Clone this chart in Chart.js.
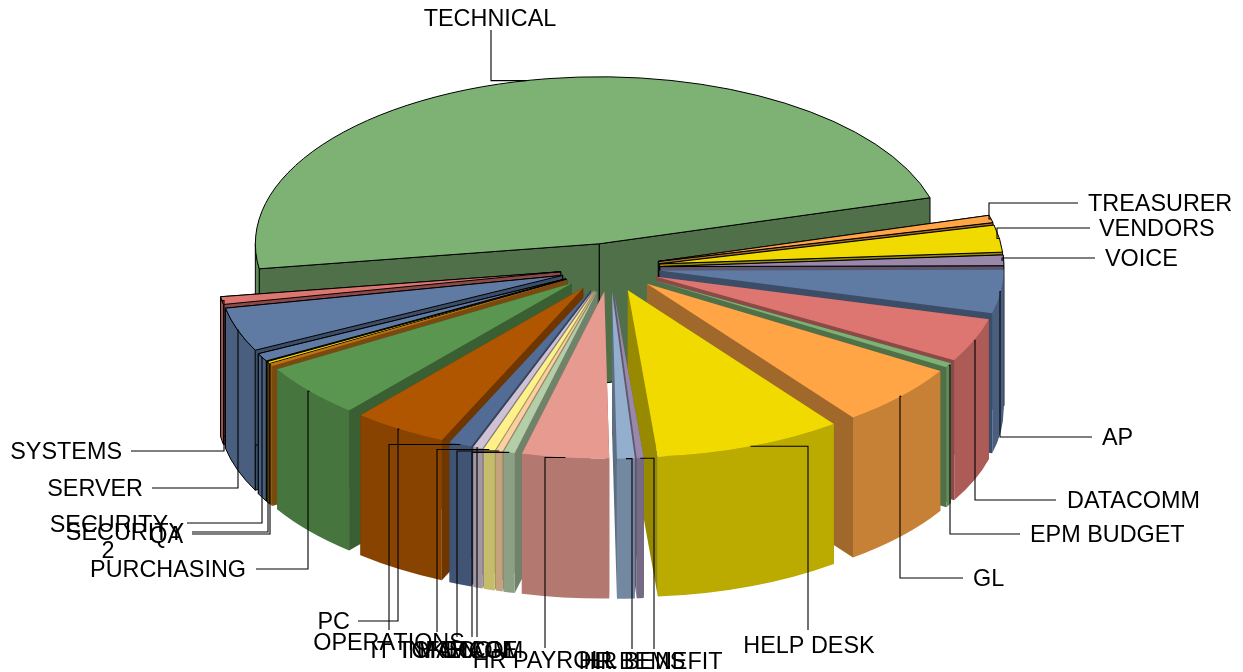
<!DOCTYPE html>
<html>
<head>
<meta charset="utf-8">
<style>
html, body { margin: 0; padding: 0; background: #fff; overflow: hidden; }
canvas { display: block; }
</style>
<script src="https://cdn.jsdelivr.net/npm/chart.js@4/dist/chart.umd.min.js"></script>
</head>
<body>
<canvas id="pie3d" width="1243" height="672"></canvas>
<script>
"use strict";
// values, share of the pie in percent
const categories = ['AP', 'DATACOMM', 'EPM BUDGET', 'GL', 'HELP DESK', 'HR BENEFIT', 'HR BEMS', 'HR PAYROLL',
    'IMAGE', 'INFOCOM', 'IT TOKEN', 'MARCOM', 'OPERATIONS', 'PC', 'PURCHASING', 'QA', 'SECURITY 2', 'SECURITY',
    'SERVER', 'SYSTEMS', 'TECHNICAL', 'TREASURER', 'VENDORS', 'VOICE'];
const shares = [4.19, 4.22, 0.42, 6.03, 8.83, 0.33, 0.83, 4.08,
    0.53, 0.31, 0.53, 0.44, 1.08, 4.47, 5.17, 0.22, 0.22, 0.78,
    4.25, 0.75, 47.94, 0.72, 2.61, 1.03];
const sliceColors = ['#5f7aa3', '#dd7570', '#7db274', '#ffa545', '#f0da00', '#9988aa', '#94aece', '#e69a90',
    '#b4cfa8', '#fad0a0', '#fff18a', '#cfc2d4', '#536c95', '#b05600', '#5a964f', '#c07414', '#f0d000', '#5f7aa3',
    '#5f7aa3', '#dd7570', '#7db274', '#ffa545', '#f0da00', '#9988aa'];
// slices that get a thin black outline in the original
const outlined = ['SECURITY 2', 'SECURITY', 'SERVER', 'SYSTEMS', 'TECHNICAL', 'TREASURER', 'VENDORS', 'VOICE'];

// label layout: [elbow x, end y, end x, text x, text y, align]
const labelLayout = {
    'AP': [1000, 437, 1092, 1102, 437, 'left'],
    'DATACOMM': [975, 500, 1056, 1067, 500, 'left'],
    'EPM BUDGET': [950, 534, 1020, 1030, 534, 'left'],
    'GL': [900, 578, 963, 973, 578, 'left'],
    'HELP DESK': [808, 630, 808, 809, 645, 'center'],
    'HR BENEFIT': [654, 649, 654, 653, 661, 'center'],
    'HR BEMS': [632, 649, 632, 632, 661, 'center'],
    'HR PAYROLL': [545, 648, 545, 545, 660, 'center'],
    'IMAGE': [472, 637, 472, 480, 650, 'center'],
    'INFOCOM': [457, 637, 457, 457, 650, 'center'],
    'IT TOKEN': [437, 632, 437, 424, 650, 'center'],
    'MARCOM': [477, 637, 477, 470, 650, 'center'],
    'OPERATIONS': [389, 630, 389, 389, 642, 'center'],
    'PC': [398, 621, 358, 350, 621, 'right'],
    'PURCHASING': [308, 569, 256, 246, 569, 'right'],
    'QA': [270, 534, 192, 183, 535, 'right'],
    'SECURITY 2': [268, 532, 192, 125, 532, 'center'],
    'SECURITY': [262, 523, 187, 168, 524, 'right'],
    'SERVER': [238, 488, 152, 143, 488, 'right'],
    'SYSTEMS': [224, 451, 131, 122, 451, 'right'],
    'TECHNICAL': [491, 30, 491, 490, 18, 'center'],
    'TREASURER': [989, 203, 1078, 1088, 203, 'left'],
    'VENDORS': [997, 228, 1090, 1099, 228, 'left'],
    'VOICE': [1002, 258, 1095, 1105, 258, 'left']
};

const TILT = 167 / 344;      // vertical squash of the pie plane
const DEPTH = 140;           // height of the slices on screen
const EXPLODE = 50;          // every slice pulled out by this much
const LABEL_FONT = '23.4px "Liberation Sans", Arial, sans-serif';
const LABEL_DY = 2;          // textBaseline middle sits a bit high

function shade(hex, f) {
    const n = parseInt(hex.slice(1), 16);
    const r = Math.round((n >> 16 & 255) * f);
    const g = Math.round((n >> 8 & 255) * f);
    const b = Math.round((n & 255) * f);
    return `rgb(${r},${g},${b})`;
}

// apex of a slice on screen, after pulling it out along its middle angle
function apexOf(arc) {
    const mid = (arc.startAngle + arc.endAngle) / 2;
    return {
        x: arc.x + Math.cos(mid) * EXPLODE,
        y: arc.y + Math.sin(mid) * EXPLODE * TILT
    };
}

function rimPoint(arc, apex, angle) {
    return {
        x: apex.x + Math.cos(angle) * arc.outerRadius,
        y: apex.y + Math.sin(angle) * arc.outerRadius * TILT
    };
}

function radialWall(ctx, apex, rim, color, stroke) {
    ctx.beginPath();
    ctx.moveTo(apex.x, apex.y);
    ctx.lineTo(rim.x, rim.y);
    ctx.lineTo(rim.x, rim.y + DEPTH);
    ctx.lineTo(apex.x, apex.y + DEPTH);
    ctx.closePath();
    ctx.fillStyle = color;
    ctx.fill();
    if (stroke) {
        ctx.strokeStyle = '#000';
        ctx.lineWidth = 1;
        ctx.stroke();
    }
}

function drawSlice(ctx, arc, color, stroke) {
    const apex = apexOf(arc);
    const R = arc.outerRadius;
    const dark = shade(color, 0.63);
    radialWall(ctx, apex, rimPoint(arc, apex, arc.startAngle), dark, stroke);
    radialWall(ctx, apex, rimPoint(arc, apex, arc.endAngle), dark, stroke);

    // outer wall, only the part that faces the viewer
    const from = Math.max(arc.startAngle, 0);
    const to = Math.min(arc.endAngle, Math.PI);
    if (from < to) {
        ctx.save();
        ctx.translate(apex.x, apex.y);
        ctx.scale(1, TILT);
        ctx.beginPath();
        ctx.arc(0, 0, R, from, to);
        ctx.arc(0, DEPTH / TILT, R, to, from, true);
        ctx.closePath();
        ctx.restore();
        ctx.fillStyle = shade(color, 0.78);
        ctx.fill();
        if (stroke) {
            ctx.strokeStyle = '#000';
            ctx.lineWidth = 1;
            ctx.stroke();
        }
    }

    // top face
    ctx.save();
    ctx.translate(apex.x, apex.y);
    ctx.scale(1, TILT);
    ctx.beginPath();
    ctx.moveTo(0, 0);
    ctx.arc(0, 0, R, arc.startAngle, arc.endAngle);
    ctx.closePath();
    ctx.restore();
    ctx.fillStyle = color;
    ctx.fill();
    if (stroke) {
        ctx.strokeStyle = '#000';
        ctx.lineWidth = 1;
        ctx.stroke();
    }
}

function drawLabels(chart) {
    const ctx = chart.ctx;
    const arcs = chart.getDatasetMeta(0).data;
    ctx.save();
    ctx.strokeStyle = '#000';
    ctx.lineWidth = 1.1;
    arcs.forEach((arc, i) => {
        const [elbowX, endY, endX] = labelLayout[categories[i]];
        const mid = (arc.startAngle + arc.endAngle) / 2;
        const p = rimPoint(arc, apexOf(arc), mid);
        ctx.beginPath();
        ctx.moveTo(p.x, p.y);
        ctx.lineTo(elbowX, p.y);
        ctx.lineTo(elbowX, endY);
        ctx.lineTo(endX, endY);
        ctx.stroke();
    });
    ctx.fillStyle = '#000';
    ctx.font = LABEL_FONT;
    ctx.textBaseline = 'middle';
    categories.forEach((name) => {
        const layout = labelLayout[name];
        const y = layout[4] + LABEL_DY;
        ctx.textAlign = layout[5];
        if (name === 'SECURITY 2') {
            // this one wraps onto two lines in the original
            ctx.fillText('SECURITY', layout[3], y);
            ctx.fillText('2', layout[3] - 17, y + 18);
        }
        else {
            ctx.fillText(name, layout[3], y);
        }
    });
    ctx.restore();
}

const pie3dPlugin = {
    id: 'pie3d',
    beforeDatasetsDraw(chart) {
        const ctx = chart.ctx;
        const arcs = chart.getDatasetMeta(0).data;
        const order = arcs.map((arc, i) => i);
        const depthKey = (i) => Math.sin((arcs[i].startAngle + arcs[i].endAngle) / 2);
        // back to front
        order.sort((a, b) => depthKey(a) - depthKey(b));
        order.forEach((i) => {
            drawSlice(ctx, arcs[i], sliceColors[i], outlined.includes(categories[i]));
        });
        drawLabels(chart);
        return false;
    }
};

new Chart(document.getElementById('pie3d'), {
    type: 'pie',
    data: {
        labels: categories,
        datasets: [{
            data: shares,
            backgroundColor: sliceColors,
            borderWidth: 0
        }]
    },
    options: {
        responsive: false,
        animation: false,
        radius: 344,
        rotation: 89.7,
        layout: { padding: { right: 23, bottom: 137 } },
        plugins: {
            legend: { display: false },
            tooltip: { enabled: false }
        }
    },
    plugins: [pie3dPlugin]
});
</script>
</body>
</html>
